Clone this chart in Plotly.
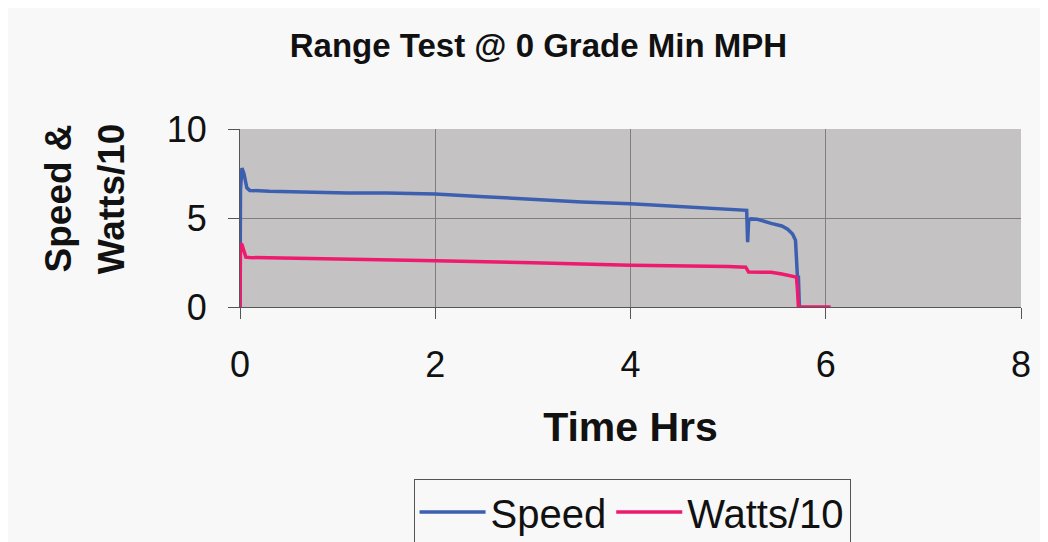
import plotly.graph_objects as go

# speed trace (mph) vs time (hours)
speed_time = [0, 0.005, 0.02, 0.04, 0.07, 0.1, 0.3, 0.7, 1.1, 1.5, 2.0, 2.5, 3.0, 3.5, 4.0,
              4.5, 5.0, 5.19, 5.2, 5.21, 5.23, 5.3, 5.44, 5.55, 5.61, 5.66, 5.69, 5.71, 5.72, 5.73]
speed = [0, 6.6, 7.8, 7.5, 6.7, 6.55, 6.5, 6.45, 6.4, 6.4, 6.35, 6.2, 6.05, 5.9, 5.8,
         5.65, 5.5, 5.43, 3.64, 4.85, 4.95, 4.93, 4.7, 4.55, 4.37, 4.1, 3.75, 1.7, 1.68, 0]

# watts / 10 trace
watts_time = [0, 0.005, 0.02, 0.04, 0.06, 0.1, 0.5, 1.0, 2.0, 3.0, 4.0, 5.0, 5.18, 5.21,
              5.44, 5.55, 5.66, 5.7, 5.71, 5.72, 6.05]
watts10 = [0, 3.55, 3.5, 3.2, 2.8, 2.78, 2.75, 2.72, 2.6, 2.48, 2.35, 2.28, 2.24, 1.96,
           1.95, 1.85, 1.72, 1.68, 1.0, 0, 0]

x_ticks = [0, 2, 4, 6, 8]
y_ticks = [0, 5, 10]
y_title_lines = ["Speed &", "Watts/10"]

FONT = "Liberation Sans, Arial, sans-serif"

fig = go.Figure()
fig.add_trace(go.Scatter(x=speed_time, y=speed, mode="lines", name="Speed",
                         line=dict(color="#3d5fb0", width=3.5)))
fig.add_trace(go.Scatter(x=watts_time, y=watts10, mode="lines", name="Watts/10",
                         line=dict(color="#ee1a6e", width=3.5)))

# y-axis title drawn as two rotated lines so the line gap matches
for xpos, line_text in zip([-0.233, -0.164], y_title_lines):
    fig.add_annotation(text=f"<b>{line_text}</b>", textangle=-90, xref="paper", yref="paper",
                       x=xpos, y=0.61, xanchor="center", yanchor="middle", showarrow=False,
                       font=dict(size=37, family=FONT, color="#111111"))

# page body adds 8px, so the figure is 8px smaller and margins shifted
fig.update_layout(
    width=1040, height=534,
    margin=dict(l=232, r=27, t=121, b=235),
    paper_bgcolor="#f8f8f8",
    plot_bgcolor="#c4c2c2",
    font=dict(family=FONT, color="#111111"),
    title=dict(text="<b>Range Test @ 0 Grade Min MPH</b>", x=0.51, xanchor="center",
               y=0.93, yanchor="middle", font=dict(size=33, family=FONT, color="#111111")),
    showlegend=True,
    legend=dict(orientation="h", x=0.502, xanchor="center", yref="container", y=0.056,
                yanchor="middle", font=dict(size=40, family=FONT, color="#111111"),
                itemwidth=66, bgcolor="#f8f8f8", bordercolor="#555555", borderwidth=1),
    shapes=[dict(type="line", xref="paper", yref="paper", x0=-0.301, x1=-0.301,
                 y0=-1.4, y1=1.8, line=dict(color="#bbbbbb", width=1))],
)

fig.update_xaxes(
    range=[0, 8], tickvals=x_ticks, showgrid=True, gridcolor="#7f7f7f", gridwidth=1,
    showline=True, linecolor="#555555", linewidth=1, ticks="outside", ticklen=11,
    tickcolor="#555555", tickfont=dict(size=36), ticklabelstandoff=15, zeroline=False,
    title=dict(text="<b>Time Hrs</b>", font=dict(size=41), standoff=28),
)
fig.update_yaxes(
    range=[0, 10], tickvals=y_ticks, showgrid=True, gridcolor="#7f7f7f", gridwidth=1,
    showline=True, linecolor="#555555", linewidth=1, ticks="outside", ticklen=11,
    tickcolor="#555555", tickfont=dict(size=36), ticklabelstandoff=14, zeroline=False,
)

fig.write_html("out.html")
